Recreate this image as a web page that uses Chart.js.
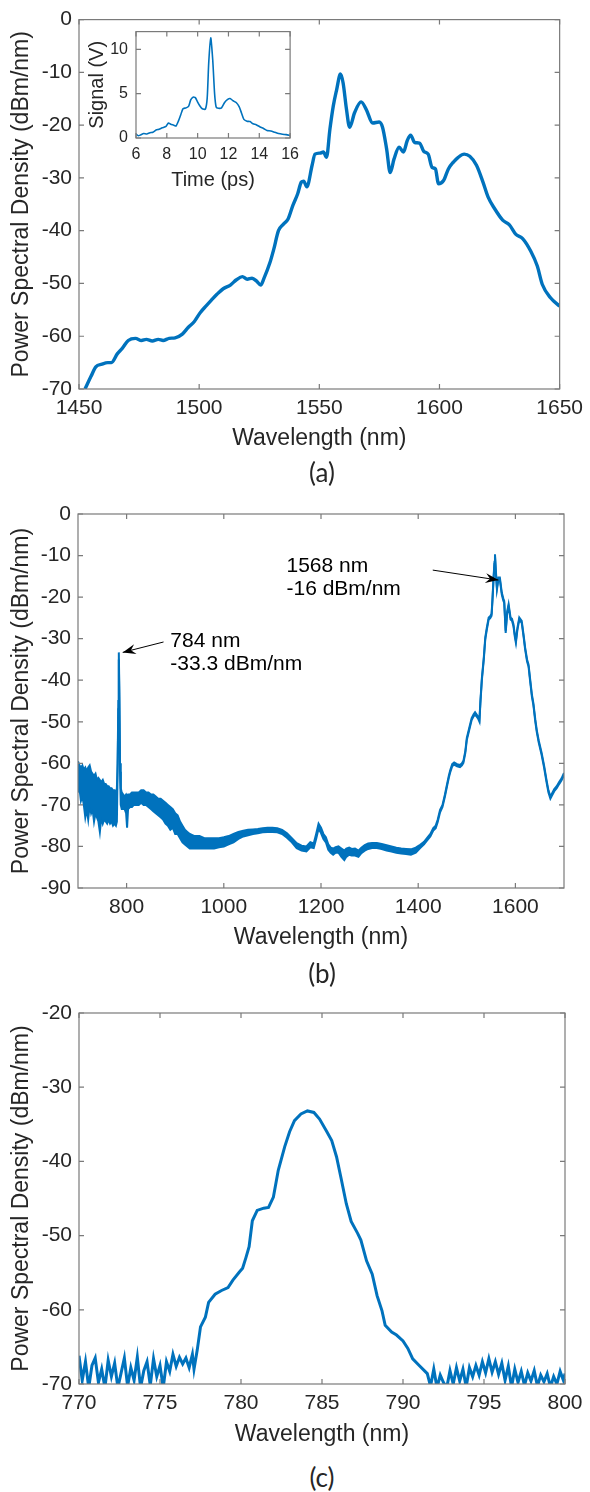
<!DOCTYPE html>
<html>
<head>
<meta charset="utf-8">
<script src="https://cdn.jsdelivr.net/npm/chart.js@4.4.1/dist/chart.umd.min.js"></script>
<style>
  body { margin: 0; background: #fff; }
  #page { position: relative; width: 590px; height: 1492px; }
  canvas { position: absolute; }
  .tag { position: absolute; left: 222px; width: 200px; text-align: center; font-family: Lato, "Open Sans", sans-serif; font-size: 26px; line-height: 30px; color: #262626; }
</style>
</head>
<body>
<div id="page">
  <canvas id="chartA" width="590" height="460" style="left:0;top:0"></canvas>
  <canvas id="chartInset" width="230" height="180" style="left:76px;top:14px"></canvas>
  <div class="tag" style="top:457px">(a)</div>
  <canvas id="chartB" width="590" height="480" style="left:0;top:480px"></canvas>
  <div class="tag" style="top:958px">(b)</div>
  <canvas id="chartC" width="590" height="460" style="left:0;top:990px"></canvas>
  <div class="tag" style="top:1462px">(c)</div>
</div>
<script>
// ---- panel (a): spectrum 1450-1650 nm
var aWl = [1452.5,1455,1457,1459.5,1462,1463.5,1466,1468,1470.5,1473.5,1476,1478,1480.5,1483,1485,1487.5,1490,1493,1495.5,1498,
  1500.5,1503,1505,1507.5,1510,1513,1515.5,1518,1520,1522,1524,1525.6,1527,1529.5,1531,1533,1535,1537,1539,1541,
  1542.5,1543.5,1544.8,1547,1548.2,1550.3,1551.7,1553,1554.4,1555.8,1557.2,1558.8,1559.9,1561.3,1562.6,1564.7,1567.4,1569.5,1572.2,1574.9,
  1576.3,1578,1579.5,1581.1,1583.2,1585,1586.6,1588,1589.7,1591.7,1593.5,1595.3,1596.9,1598.3,1599.6,1601.7,1603.7,1605.8,1607.8,1610.3,
  1612.6,1615.4,1618.1,1620.2,1622.9,1626.3,1629.1,1631.8,1634.6,1638,1640.7,1642.8,1646.2,1650];
var aPsd = [-70,-67.6,-65.8,-65.3,-65.0,-65.0,-63.3,-62.3,-60.8,-60.4,-60.8,-60.6,-60.9,-60.6,-60.8,-60.4,-60.3,-59.6,-58.3,-57.2,
  -55.5,-54.2,-53.2,-52.0,-51.0,-50.3,-49.3,-48.7,-49.2,-49.0,-49.6,-50.3,-49.0,-46.0,-43.6,-40.0,-38.8,-37.8,-35.2,-33.0,
  -30.8,-30.6,-31.7,-27.6,-25.5,-25.3,-25.1,-26.1,-20.8,-16.4,-13.3,-10.3,-12.0,-17.0,-20.4,-17.6,-15.6,-17.0,-19.6,-19.4,
  -20.4,-24.5,-29.0,-26.4,-24.2,-25.1,-22.9,-21.9,-23.3,-23.4,-25.0,-25.5,-28.0,-28.3,-31.1,-30.5,-28.3,-27.0,-26.1,-25.5,
  -25.9,-27.6,-30.8,-33.6,-35.8,-38.0,-38.9,-40.7,-41.5,-43.9,-46.7,-50.2,-52.7,-54.3];
var aXTicks = [1450, 1500, 1550, 1600, 1650];
var aYTicks = [-70, -60, -50, -40, -30, -20, -10, 0];

// ---- inset: autocorrelation trace
var insetTime = [6.0,6.15,6.3,6.5,6.7,6.9,7.1,7.3,7.5,7.7,7.95,8.1,8.25,8.45,8.6,8.75,8.9,9.05,9.25,9.42,
  9.55,9.7,9.85,10.0,10.15,10.3,10.5,10.62,10.72,10.85,10.98,11.1,11.2,11.35,11.55,11.75,11.95,12.1,12.3,12.5,
  12.7,12.85,13.0,13.2,13.4,13.6,13.8,14.05,14.3,14.5,14.75,15.0,15.25,15.5,15.75,16.0];
var insetSignal = [0.45,0.25,0.35,0.5,0.45,0.6,0.65,0.9,1.0,1.15,1.3,1.7,1.55,1.45,1.35,1.9,2.6,3.3,3.4,3.6,
  4.3,4.6,4.55,4.05,3.6,3.3,3.25,4.5,8.5,11.3,8.8,5.0,3.5,3.35,3.4,4.0,4.35,4.45,4.2,4.0,
  3.5,2.8,2.1,1.9,1.85,1.6,1.5,1.25,1.05,0.85,0.8,0.65,0.5,0.42,0.38,0.28];
var insetXTicks = [6, 8, 10, 12, 14, 16];
var insetYTicks = [0, 5, 10];

// ---- panel (b): broadband spectrum, drawn as upper / lower envelope of the noisy trace
var bWl = [700,703,706,709,712,715,718,721,724,727,730,733,736,739,742,745,748,751,754,757,
  760,763,766,769,772,775,778,780,781.5,783,784,785,786.5,788,790,793,796,799,801,803,
  807,811,815,820,825,830,835,840,845,850,855,860,865,870,875,880,885,890,895,900,
  905,910,915,920,925,930,940,950,960,970,980,990,1000,1010,1020,1030,1040,1050,1060,1070,
  1080,1090,1100,1110,1120,1130,1140,1150,1160,1170,1178,1185,1190,1195,1200,1205,1210,1215,1220,1225,
  1230,1236,1242,1248,1252,1258,1263,1270,1277,1283,1290,1297,1305,1315,1325,1335,1345,1355,1365,1375,
  1385,1395,1404,1412,1418,1425,1431,1436,1440,1445,1450,1455,1459,1463,1466,1470,1474,1480,1486,1490,
  1493,1497,1500,1505,1510,1514,1517,1520,1523,1526,1528,1531,1535,1538,1541,1545,1548,1551,1553,1555,
  1557,1558,1559.5,1562,1565,1568,1572,1575,1577,1580,1583,1586,1590,1593,1596,1599,1601,1604,1608,1613,
  1617,1620,1624,1627,1630,1634,1637,1641,1644,1648,1654,1659,1664,1668,1672,1675,1680,1685,1690,1695,1700];
var bTop = [-59.5,-60.5,-61,-60.5,-61.5,-61,-62,-61,-60.5,-62,-62.5,-63,-62.5,-64,-63.5,-64,-64.5,-64,-65,-65,
  -65.5,-65.5,-66,-66,-66.5,-66.5,-67,-66,-60,-45,-33.3,-42,-60,-66,-67,-67.5,-68,-67.5,-68,-67.5,
  -67.5,-67,-67,-67,-67,-66.5,-66.5,-67,-67,-67.5,-67.5,-68,-68.5,-68.5,-69,-69.5,-70,-70.5,-71,-72,
  -72.5,-74,-75,-76,-76.5,-77,-77.5,-77.5,-78,-78,-78,-78,-77.8,-77.5,-77,-76.5,-76.2,-76,-75.9,-75.8,
  -75.6,-75.5,-75.5,-75.6,-76,-76.8,-78,-79.2,-79.8,-80,-79,-79.3,-77,-74.5,-75.5,-77,-77.8,-79.5,-80.3,-80.5,
  -80.2,-80,-80.5,-81,-80.5,-80.3,-80.6,-80.5,-81,-80.3,-79.7,-79.3,-79.2,-79.2,-79.4,-79.7,-80,-80.3,-80.5,-80.6,
  -80.7,-80.3,-79.6,-78.9,-78,-77,-75.6,-75,-73.6,-71.2,-70,-67.5,-65.2,-63,-61.6,-60.2,-59.8,-60.2,-60.4,-60,
  -59.4,-57,-53.9,-51.5,-49.1,-48.2,-47.7,-48.2,-48.7,-49.5,-45,-39.5,-34.5,-29.7,-27.5,-24.9,-24.6,-24,-20,-15.3,
  -11.5,-9.7,-13,-17.7,-15.3,-15.3,-18.9,-20.3,-20.9,-28.1,-23.5,-21.7,-24.9,-25.2,-26.5,-29.2,-30.5,-27.5,-24.9,-25.7,
  -29.2,-32.1,-35,-36.2,-39.4,-43.5,-45.5,-49.5,-52,-54.5,-57.5,-60.5,-64,-66.5,-68,-67.3,-66.2,-65.5,-64.5,-63.6,-62.3];
var bBot = [-67,-66,-69,-68,-70,-73,-71,-73.5,-70,-72,-71,-74,-72,-73,-74,-76.5,-73,-74.5,-73.5,-74,
  -74.5,-73.5,-74.5,-74,-75,-74.5,-75,-74,-62,-47,-35,-44,-62,-70,-71,-71,-71,-72,-75.5,-71,
  -70.5,-70.5,-70,-70,-70,-69.5,-70,-70,-70.5,-71,-71.5,-72,-72.5,-73,-73.5,-74.5,-75,-76,-75.5,-77,
  -77,-78,-79,-79.5,-80,-80.5,-80.5,-80.5,-80.5,-80.5,-80.5,-80.2,-80,-79.5,-79,-78.2,-77.6,-77.3,-77,-76.8,
  -76.6,-76.5,-76.5,-76.6,-77,-77.9,-79,-80.4,-81,-81.2,-80.2,-80.4,-78.2,-75.7,-76.8,-78.2,-79,-80.8,-81.5,-82,
  -81.5,-81.5,-82.5,-83.3,-82.5,-82,-82.2,-82.2,-82.5,-81.6,-81,-80.6,-80.4,-80.4,-80.6,-81,-81.2,-81.5,-81.7,-81.8,
  -82,-81.5,-80.4,-79.5,-78.6,-77.6,-76.2,-75.6,-74.2,-71.8,-70.5,-68,-65.7,-63.5,-62.1,-60.7,-60.3,-60.7,-60.9,-60.5,
  -59.9,-57.5,-54.4,-52,-49.6,-48.7,-48.2,-48.7,-49.2,-50,-45.5,-40,-35,-30.2,-28,-25.4,-25.1,-24.5,-20.5,-15.8,
  -12,-10.2,-13.5,-18.2,-15.8,-15.8,-19.4,-20.8,-21.4,-28.6,-24,-22.2,-25.4,-25.7,-27,-29.7,-31,-28,-25.4,-26.2,
  -29.7,-32.6,-35.5,-36.7,-39.9,-44,-46,-50,-52.5,-55,-58,-61,-64.5,-67,-68.5,-67.8,-66.7,-66,-65,-64.1,-62.8];
var bXTicks = [800, 1000, 1200, 1400, 1600];
var bYTicks = [-90, -80, -70, -60, -50, -40, -30, -20, -10, 0];
var noteLines = [['784 nm', '-33.3 dBm/nm'], ['1568 nm', '-16 dBm/nm']];
var noteAt = [[890, -30.6], [1129, -12.5]];
var arrowFrom = [[876, -30.8], [1430, -13.5]];
var arrowTo = [[792, -33.3], [1565, -15.9]];

// ---- panel (c): zoom on the 784 nm peak
var cWl = [770.0,770.2,770.4,770.6,770.8,771.0,771.2,771.4,771.6,771.8,772.0,772.2,772.4,772.6,772.8,773.0,773.2,773.4,773.6,773.8,
  774.0,774.2,774.4,774.6,774.8,775.0,775.2,775.4,775.6,775.8,776.0,776.2,776.4,776.6,776.8,777.0,777.1,777.3,777.5,777.8,
  778.0,778.4,778.8,779.2,779.5,779.9,780.1,780.3,780.5,780.7,781.0,781.4,781.7,782.0,782.3,782.7,783.0,783.3,783.7,784.1,
  784.5,784.85,785.3,785.6,785.9,786.2,786.5,786.8,787.2,787.4,787.75,788.1,788.4,788.7,788.9,789.3,789.6,790.0,790.3,790.6,
  791.0,791.5,791.7,791.9,792.1,792.3,792.5,792.7,792.9,793.1,793.3,793.5,793.7,793.9,794.1,794.3,794.5,794.7,794.9,795.1,
  795.3,795.5,795.7,795.9,796.1,796.3,796.5,796.7,796.9,797.1,797.3,797.5,797.7,797.9,798.1,798.3,798.5,798.7,798.9,799.1,
  799.3,799.5,799.7,799.9,800.0];
var cPsd = [-66.2,-69.5,-67.0,-70.5,-67.5,-66.5,-69.8,-68.0,-70.5,-66.8,-69.0,-67.2,-70.5,-68.5,-66.5,-70.3,-67.8,-69.5,-66.4,-70.5,
  -68.2,-67.0,-70.2,-66.6,-69.0,-67.5,-70.5,-67.0,-68.3,-66.0,-67.6,-66.4,-67.3,-66.5,-67.8,-66.0,-68.0,-65.4,-62.3,-61.0,
  -59.0,-57.9,-57.4,-57.0,-56.0,-54.9,-54.4,-53.0,-51.5,-48.0,-46.6,-46.3,-46.2,-44.8,-41.2,-38.0,-36.0,-34.5,-33.6,-33.2,
  -33.4,-34.3,-36.0,-37.2,-39.4,-42.5,-45.7,-48.1,-49.7,-50.6,-53.4,-55.2,-58.1,-60.1,-62.1,-63.0,-63.4,-64.2,-65.2,-66.6,
  -67.5,-68.6,-70.3,-68.0,-70.5,-68.8,-69.8,-70.5,-68.2,-70.0,-67.8,-69.6,-68.0,-70.4,-67.8,-69.0,-67.5,-68.8,-67.0,-68.5,
  -66.6,-68.4,-67.0,-68.7,-67.2,-69.5,-67.6,-70.4,-68.0,-69.8,-68.3,-70.2,-68.5,-69.6,-68.2,-70.3,-68.8,-69.7,-68.6,-70.4,
  -69.0,-70.0,-68.3,-69.5,-68.6];
var cXTicks = [770, 775, 780, 785, 790, 795, 800];
var cYTicks = [-70, -60, -50, -40, -30, -20];

var blue = '#0072BD';
var ink = '#262626';
Chart.defaults.font.family = '"Liberation Sans", Arial, sans-serif';
Chart.defaults.color = ink;

function pts(xs, ys) {
  return xs.map(function (v, i) { return {x: v, y: ys[i]}; });
}

// matlab style box with inward ticks on all four sides
var boxTicks = {
  id: 'boxTicks',
  afterDatasetsDraw: function (chart, args, opts) {
    var ctx = chart.ctx, a = chart.chartArea, x = chart.scales.x, y = chart.scales.y;
    var len = opts.len || 5;
    ctx.save();
    ctx.strokeStyle = '#7a7a7a';
    ctx.lineWidth = 1.2;
    ctx.strokeRect(a.left, a.top, a.right - a.left, a.bottom - a.top);
    ctx.beginPath();
    x.ticks.forEach(function (t) {
      var px = x.getPixelForValue(t.value);
      ctx.moveTo(px, a.bottom); ctx.lineTo(px, a.bottom - len);
      ctx.moveTo(px, a.top); ctx.lineTo(px, a.top + len);
    });
    y.ticks.forEach(function (t) {
      var py = y.getPixelForValue(t.value);
      ctx.moveTo(a.left, py); ctx.lineTo(a.left + len, py);
      ctx.moveTo(a.right, py); ctx.lineTo(a.right - len, py);
    });
    ctx.stroke();
    ctx.restore();
  }
};

// text + arrows of panel (b)
var notes = {
  id: 'notes',
  afterDatasetsDraw: function (chart) {
    var ctx = chart.ctx, x = chart.scales.x, y = chart.scales.y;
    ctx.save();
    ctx.font = '21px "Liberation Sans", Arial, sans-serif';
    ctx.fillStyle = '#000';
    ctx.strokeStyle = '#000';
    ctx.lineWidth = 1;
    ctx.textBaseline = 'middle';
    noteLines.forEach(function (lines, i) {
      var tx = x.getPixelForValue(noteAt[i][0]);
      var ty = y.getPixelForValue(noteAt[i][1]);
      lines.forEach(function (s, j) { ctx.fillText(s, tx, ty + j * 23); });
      var x0 = x.getPixelForValue(arrowFrom[i][0]), y0 = y.getPixelForValue(arrowFrom[i][1]);
      var x1 = x.getPixelForValue(arrowTo[i][0]), y1 = y.getPixelForValue(arrowTo[i][1]);
      ctx.beginPath(); ctx.moveTo(x0, y0); ctx.lineTo(x1, y1); ctx.stroke();
      var ang = Math.atan2(y1 - y0, x1 - x0), c = Math.cos(ang), s = Math.sin(ang);
      var hl = 13, hw = 5;
      ctx.beginPath();
      ctx.moveTo(x1, y1);
      ctx.lineTo(x1 - hl * c + hw * s, y1 - hl * s - hw * c);
      ctx.lineTo(x1 - 0.65 * hl * c, y1 - 0.65 * hl * s);
      ctx.lineTo(x1 - hl * c - hw * s, y1 - hl * s + hw * c);
      ctx.closePath();
      ctx.fill();
    });
    ctx.restore();
  }
};

function axis(o) {
  return {
    type: 'linear', min: o.min, max: o.max,
    grid: {display: false, drawTicks: false},
    border: {display: false},
    afterBuildTicks: function (s) { s.ticks = o.ticks.map(function (v) { return {value: v}; }); },
    afterFit: function (s) { if (o.horiz) s.height = o.fit; else s.width = o.fit; },
    ticks: {autoSkip: false, maxRotation: 0, padding: o.pad, font: {size: o.size}, color: ink,
      callback: function (v) { return String(v); }},
    title: {display: true, text: o.title, color: ink, font: {size: o.tsize},
      padding: o.horiz ? {top: 0, bottom: o.tpad} : {top: o.tpad, bottom: 0}}
  };
}

function opts(pad, xAxis, yAxis, extra) {
  var plugins = {legend: {display: false}, tooltip: {enabled: false}, boxTicks: {len: 5}};
  return {
    responsive: false, animation: false, devicePixelRatio: 1,
    layout: {padding: pad},
    plugins: plugins,
    scales: {x: xAxis, y: yAxis}
  };
}

var title = 'Power Spectral Density (dBm/nm)';

new Chart(document.getElementById('chartA'), {
  type: 'line',
  data: {datasets: [{data: pts(aWl, aPsd), borderColor: blue, borderWidth: 3.4, pointRadius: 0, cubicInterpolationMode: 'monotone'}]},
  options: opts({top: 16, right: 24, left: 0, bottom: 0},
    axis({min: 1450, max: 1650, ticks: aXTicks, horiz: true, fit: 71, pad: 7, size: 21, title: 'Wavelength (nm)', tsize: 23, tpad: 8}),
    axis({min: -70, max: 0, ticks: aYTicks, fit: 79, pad: 7, size: 21, title: title, tsize: 23, tpad: 8})),
  plugins: [boxTicks]
});

new Chart(document.getElementById('chartInset'), {
  type: 'line',
  data: {datasets: [{data: pts(insetTime, insetSignal), borderColor: blue, borderWidth: 1.6, pointRadius: 0, tension: 0.2}]},
  options: opts({top: 15, right: 12, left: 0, bottom: 0},
    axis({min: 6, max: 16, ticks: insetXTicks, horiz: true, fit: 56, pad: 7, size: 16, title: 'Time (ps)', tsize: 20, tpad: 2}),
    axis({min: 0, max: 12, ticks: insetYTicks, fit: 60, pad: 8, size: 16, title: 'Signal (V)', tsize: 20, tpad: 9})),
  plugins: [boxTicks]
});

new Chart(document.getElementById('chartB'), {
  type: 'line',
  data: {datasets: [
    {data: pts(bWl, bTop), borderColor: blue, backgroundColor: blue, borderWidth: 2, pointRadius: 0, fill: '+1'},
    {data: pts(bWl, bBot), borderColor: blue, borderWidth: 2, pointRadius: 0, fill: false}
  ]},
  options: opts({top: 34, right: 26, left: 0, bottom: 0},
    axis({min: 700, max: 1700, ticks: bXTicks, horiz: true, fit: 72, pad: 7, size: 21, title: 'Wavelength (nm)', tsize: 23, tpad: 9}),
    axis({min: -90, max: 0, ticks: bYTicks, fit: 78, pad: 7, size: 21, title: title, tsize: 23, tpad: 8})),
  plugins: [boxTicks, notes]
});

new Chart(document.getElementById('chartC'), {
  type: 'line',
  data: {datasets: [{data: pts(cWl, cPsd), borderColor: blue, borderWidth: 3, pointRadius: 0, tension: 0}]},
  options: opts({top: 23, right: 25, left: 0, bottom: 0},
    axis({min: 770, max: 800, ticks: cXTicks, horiz: true, fit: 66, pad: 7, size: 21, title: 'Wavelength (nm)', tsize: 23, tpad: 2}),
    axis({min: -70, max: -20, ticks: cYTicks, fit: 79, pad: 7, size: 21, title: title, tsize: 23, tpad: 8})),
  plugins: [boxTicks]
});
</script>
</body>
</html>
